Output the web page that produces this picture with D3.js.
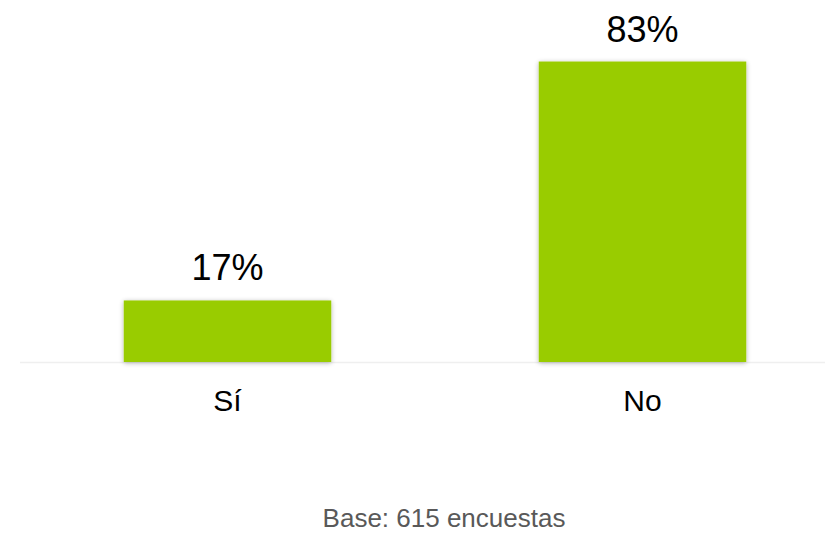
<!DOCTYPE html>
<html><head><meta charset="utf-8">
<script src="https://cdn.jsdelivr.net/npm/d3@7"></script>
<style>body{margin:0;background:#fff}svg{display:block}text{font-family:"Liberation Sans",Arial,sans-serif}</style>
</head><body>
<svg id="c" width="825" height="535"></svg>
<script>
const categories = ["Sí", "No"];
const values = [17, 83];
const valueLabels = ["17%", "83%"];
const note = "Base: 615 encuestas";

const svg = d3.select("#c");
const defs = svg.append("defs");
const f = defs.append("filter").attr("id","sh").attr("x","-10%").attr("y","-10%").attr("width","120%").attr("height","120%");
f.append("feGaussianBlur").attr("in","SourceAlpha").attr("stdDeviation",2.5).attr("result","b");
f.append("feOffset").attr("in","b").attr("dx",0).attr("dy",1).attr("result","o");
f.append("feComponentTransfer").attr("in","o").attr("result","t").append("feFuncA").attr("type","linear").attr("slope",0.3);
const m = f.append("feMerge"); m.append("feMergeNode").attr("in","t"); m.append("feMergeNode").attr("in","SourceGraphic");

const x = d3.scaleBand().domain(categories).range([20, 850]).paddingInner(0.5).paddingOuter(0.25);
const y = d3.scaleLinear().domain([0, 100]).range([362, 0]);

svg.append("line").attr("x1",20).attr("x2",825).attr("y1",362.5).attr("y2",362.5)
  .attr("stroke","#efefef").attr("stroke-width",1.5);

const data = categories.map((c,i)=>({c, v:values[i], l:valueLabels[i]}));
svg.selectAll("rect.bar").data(data).join("rect").attr("class","bar")
  .attr("x", d=>x(d.c)).attr("width", x.bandwidth())
  .attr("y", d=>y(d.v)).attr("height", d=>y(0)-y(d.v))
  .attr("fill","#99CC00").attr("filter","url(#sh)");

svg.selectAll("text.val").data(data).join("text").attr("class","val")
  .attr("x", d=>x(d.c)+x.bandwidth()/2).attr("y", d=>y(d.v)-20)
  .attr("text-anchor","middle").attr("font-size",36).attr("fill","#000").text(d=>d.l);

const ax = svg.append("g").attr("transform","translate(0,362)")
  .call(d3.axisBottom(x).tickSize(0).tickPadding(0));
ax.select(".domain").remove();
ax.selectAll("text").attr("font-size",30).attr("fill","#000").attr("dy",0).attr("y",49)
  .style("font-family",'"Liberation Sans",Arial,sans-serif');

svg.append("text").attr("x",444).attr("y",527).attr("text-anchor","middle")
  .attr("font-size",26).attr("fill","#595959").text(note);
</script>
</body></html>
